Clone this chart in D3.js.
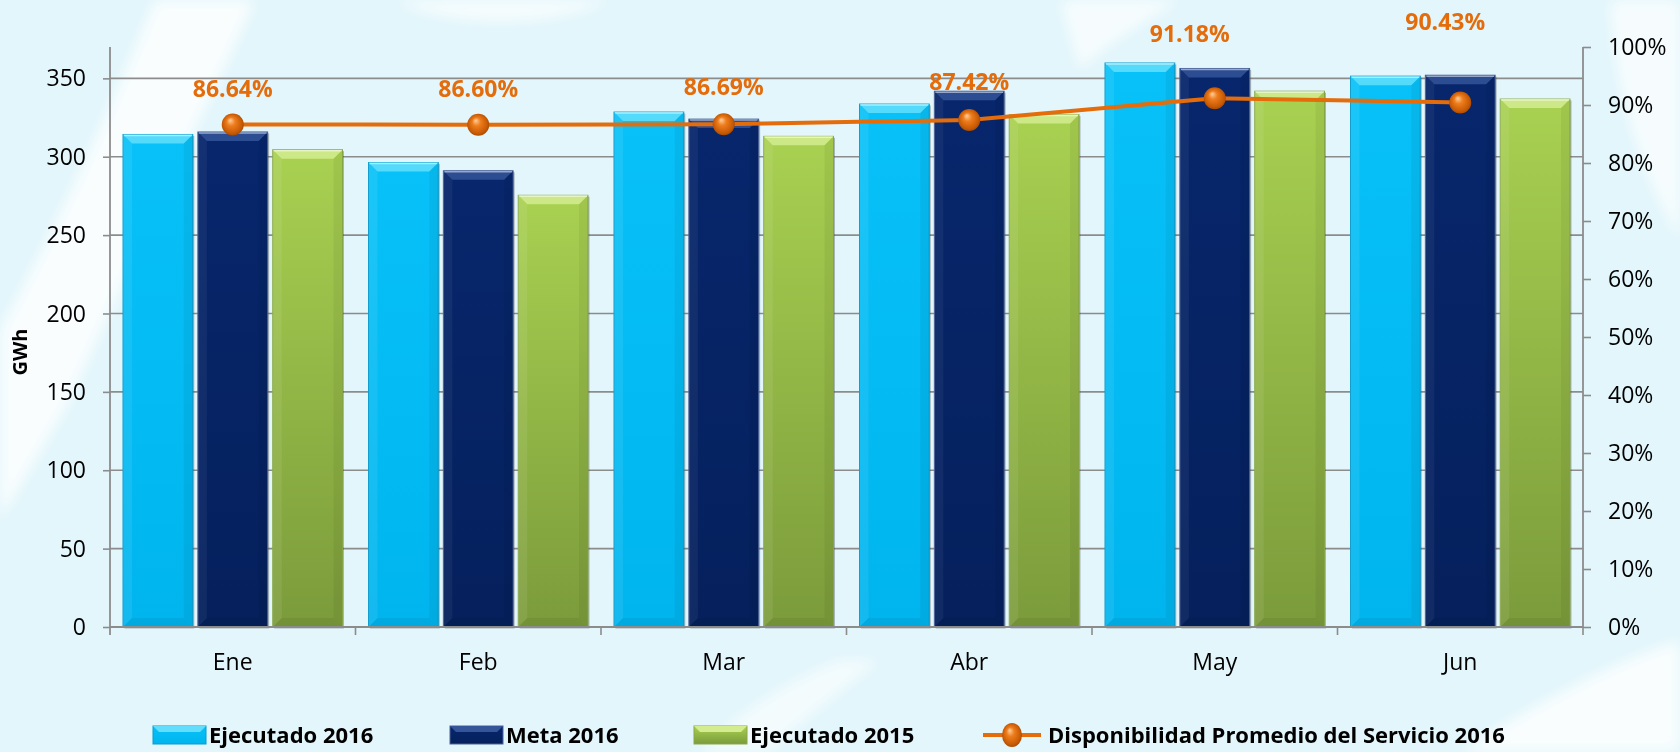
<!DOCTYPE html>
<html>
<head>
<meta charset="utf-8">
<script src="https://cdn.jsdelivr.net/npm/d3@7"></script>
<style>
    html, body { margin: 0; padding: 0; background: #e2f6fb; }
    svg { display: block; }
    text { font-family: 'Open Sans', 'Noto Sans', sans-serif; }
</style>
</head>
<body>
<div id="chart"></div>
<script>
// Data
const months = ['Ene', 'Feb', 'Mar', 'Abr', 'May', 'Jun'];
const ejecutado2016 = [314.2, 296.3, 328.5, 333.6, 359.8, 351.4];
const meta2016 = [315.8, 291.0, 324.0, 341.8, 356.3, 352.0];
const ejecutado2015 = [304.5, 275.4, 313.0, 326.9, 341.8, 336.8];
const disponibilidad = [86.64, 86.60, 86.69, 87.42, 91.18, 90.43];
const seriesNames = ['Ejecutado 2016', 'Meta 2016', 'Ejecutado 2015'];
const lineName = 'Disponibilidad Promedio del Servicio 2016';
const leftTicks = [0, 50, 100, 150, 200, 250, 300, 350];
const rightTicks = [0, 10, 20, 30, 40, 50, 60, 70, 80, 90, 100];

// Layout tweaks for the percentage labels (px above the marker, px shift in x)
const labelLift = [36, 36, 37, 38, 64, 81];
const labelShift = [0, 0, 0, 0, -25, -15];

const styles = [
    { id: 'cyan',  top: '#08c1f8', bottom: '#00b5ee', bevel: '#62defc', edge: '#0a9ccd', side: 'rgba(255,255,255,0.08)' },
    { id: 'navy',  top: '#07266c', bottom: '#05205c', bevel: '#34559a', edge: '#4a6296', side: 'rgba(255,255,255,0.05)' },
    { id: 'green', top: '#a9d151', bottom: '#7b9b3b', bevel: '#d3ec8f', edge: '#8aa849', side: 'rgba(255,255,255,0.08)' }
];
const orange = '#e46c0a';

const width = 1680, height = 752;
const margin = { top: 47, right: 97, bottom: 125, left: 110 };
const plotRight = width - margin.right;
const plotBottom = height - margin.bottom;

const svg = d3.select('#chart').append('svg')
    .attr('width', width)
    .attr('height', height);

const defs = svg.append('defs');

// Gradients for bars
styles.forEach(s => {
    const lg = defs.append('linearGradient')
        .attr('id', `grad-${s.id}`)
        .attr('x1', 0).attr('y1', 0).attr('x2', 0).attr('y2', 1);
    lg.append('stop').attr('offset', '0%').attr('stop-color', s.top);
    lg.append('stop').attr('offset', '100%').attr('stop-color', s.bottom);
});

// Sphere marker gradient
const rg = defs.append('radialGradient')
    .attr('id', 'sphere')
    .attr('cx', '50%').attr('cy', '50%').attr('r', '55%')
    .attr('fx', '38%').attr('fy', '30%');
rg.append('stop').attr('offset', '0%').attr('stop-color', '#ffd0a0');
rg.append('stop').attr('offset', '35%').attr('stop-color', '#ee7d1c');
rg.append('stop').attr('offset', '80%').attr('stop-color', '#c85a05');
rg.append('stop').attr('offset', '100%').attr('stop-color', '#9a4400');

defs.append('filter').attr('id', 'blur')
    .attr('x', '-20%').attr('y', '-20%').attr('width', '140%').attr('height', '140%')
    .append('feGaussianBlur').attr('stdDeviation', 7);

// Background with soft white swooshes
svg.append('rect').attr('width', width).attr('height', height).attr('fill', '#e2f6fb');
const bg = svg.append('g').attr('filter', 'url(#blur)').attr('fill', '#ffffff');
bg.append('path').attr('opacity', 0.8)
    .attr('d', 'M155,0 L255,0 C215,90 150,220 70,400 L0,520 L0,330 C60,220 110,110 155,0 Z');
bg.append('path').attr('opacity', 0.7)
    .attr('d', 'M395,0 C440,28 560,28 610,0 Z');
bg.append('path').attr('opacity', 0.7)
    .attr('d', 'M1060,0 L1180,0 C1150,20 1110,40 1080,70 Z');
bg.append('path').attr('opacity', 0.7)
    .attr('d', 'M1610,0 L1680,0 L1680,240 C1645,180 1615,100 1610,0 Z');
bg.append('path').attr('opacity', 0.8)
    .attr('d', 'M1460,752 C1540,700 1620,660 1680,640 L1680,752 Z');
bg.append('path').attr('opacity', 0.6)
    .attr('d', 'M700,752 C740,710 790,680 840,660 L880,660 C830,700 790,730 770,752 Z');

// Scales (absolute page coordinates)
const x0 = d3.scaleBand().domain(months).range([margin.left, plotRight]).padding(0);
const x1 = d3.scaleBand().domain(seriesNames)
    .range([13, x0.bandwidth() - 13])
    .paddingInner(0.068);
const y = d3.scaleLinear().domain([0, 370]).range([plotBottom, margin.top]);
const yR = d3.scaleLinear().domain([0, 100]).range([plotBottom, margin.top]);

const axisColor = '#8c8c8c';
const tickFont = '23px';

// Gridlines
svg.append('g').selectAll('line')
    .data(leftTicks.filter(t => t > 0))
    .join('line')
    .attr('x1', margin.left).attr('x2', plotRight)
    .attr('y1', d => y(d)).attr('y2', d => y(d))
    .attr('stroke', axisColor)
    .attr('stroke-width', 1.6);

// Bevelled bar
function drawBar(sel, bx, by, bw, bh, s) {
    const b = Math.min(9, bh / 2);
    sel.append('rect')
        .attr('x', bx + 1.5).attr('y', by + 1.5)
        .attr('width', bw).attr('height', bh)
        .attr('fill', 'rgba(60,60,60,0.35)');
    sel.append('rect')
        .attr('x', bx).attr('y', by)
        .attr('width', bw).attr('height', bh)
        .attr('fill', `url(#grad-${s.id})`)
        .attr('stroke', s.edge)
        .attr('stroke-width', 1);
    sel.append('polygon')
        .attr('points', [[bx, by], [bx + b, by + b], [bx + b, by + bh - b], [bx, by + bh]].join(' '))
        .attr('fill', s.side);
    sel.append('polygon')
        .attr('points', [[bx + bw, by], [bx + bw - b, by + b], [bx + bw - b, by + bh - b], [bx + bw, by + bh]].join(' '))
        .attr('fill', 'rgba(0,0,0,0.05)');
    sel.append('polygon')
        .attr('points', [[bx, by + bh], [bx + b, by + bh - b], [bx + bw - b, by + bh - b], [bx + bw, by + bh]].join(' '))
        .attr('fill', 'rgba(0,0,0,0.06)');
    sel.append('polygon')
        .attr('points', [[bx, by], [bx + bw, by], [bx + bw - b, by + b], [bx + b, by + b]].join(' '))
        .attr('fill', s.bevel)
        .attr('opacity', 0.85);
    sel.append('line')
        .attr('x1', bx + 1).attr('x2', bx + bw - 1)
        .attr('y1', by + 1).attr('y2', by + 1)
        .attr('stroke', 'rgba(255,255,255,0.5)')
        .attr('stroke-width', 1.5);
}

const seriesValues = [ejecutado2016, meta2016, ejecutado2015];
const bars = svg.append('g');
months.forEach((m, i) => {
    seriesNames.forEach((name, k) => {
        const v = seriesValues[k][i];
        drawBar(bars.append('g'), x0(m) + x1(name), y(v), x1.bandwidth(), y(0) - y(v), styles[k]);
    });
});

// Left axis: tick marks from d3, labels as plain text
const leftAxis = svg.append('g')
    .attr('transform', `translate(${margin.left},0)`)
    .call(d3.axisLeft(y).tickValues(leftTicks).tickSize(7).tickFormat('').tickSizeOuter(0));
leftAxis.select('.domain').remove();
leftAxis.selectAll('.tick line').attr('stroke', axisColor).attr('stroke-width', 1.6);
svg.append('g').selectAll('text')
    .data(leftTicks)
    .join('text')
    .attr('x', margin.left - 24)
    .attr('y', d => y(d))
    .attr('dy', '0.35em')
    .attr('text-anchor', 'end')
    .style('font-size', tickFont)
    .attr('fill', '#000')
    .text(d => d);
svg.append('line')
    .attr('x1', margin.left).attr('x2', margin.left)
    .attr('y1', margin.top).attr('y2', plotBottom + 8)
    .attr('stroke', axisColor).attr('stroke-width', 1.8);

// Right axis
const rightAxis = svg.append('g')
    .attr('transform', `translate(${plotRight},0)`)
    .call(d3.axisRight(yR).tickValues(rightTicks).tickSize(8).tickFormat('').tickSizeOuter(0));
rightAxis.select('.domain').remove();
rightAxis.selectAll('.tick line').attr('stroke', axisColor).attr('stroke-width', 1.6);
svg.append('g').selectAll('text')
    .data(rightTicks)
    .join('text')
    .attr('x', plotRight + 25)
    .attr('y', d => yR(d))
    .attr('dy', '0.35em')
    .attr('text-anchor', 'start')
    .style('font-size', tickFont)
    .attr('fill', '#000')
    .text(d => `${d}%`);
svg.append('line')
    .attr('x1', plotRight).attr('x2', plotRight)
    .attr('y1', margin.top).attr('y2', plotBottom)
    .attr('stroke', axisColor).attr('stroke-width', 1.8);

// X axis: baseline, boundary ticks, month labels
svg.append('line')
    .attr('x1', margin.left).attr('x2', plotRight)
    .attr('y1', y(0)).attr('y2', y(0))
    .attr('stroke', axisColor).attr('stroke-width', 1.8);
svg.append('g').selectAll('line')
    .data(months.slice(1))
    .join('line')
    .attr('x1', d => x0(d)).attr('x2', d => x0(d))
    .attr('y1', plotBottom).attr('y2', plotBottom + 8)
    .attr('stroke', axisColor).attr('stroke-width', 1.6);
svg.append('line')
    .attr('x1', plotRight).attr('x2', plotRight)
    .attr('y1', plotBottom).attr('y2', plotBottom + 8)
    .attr('stroke', axisColor).attr('stroke-width', 1.6);
svg.append('g').selectAll('text')
    .data(months)
    .join('text')
    .attr('x', d => x0(d) + x0.bandwidth() / 2)
    .attr('y', plotBottom + 35)
    .attr('dy', '0.35em')
    .attr('text-anchor', 'middle')
    .style('font-size', tickFont)
    .attr('fill', '#000')
    .text(d => d);

// Y axis title
svg.append('text')
    .attr('transform', 'rotate(-90)')
    .attr('x', -352)
    .attr('y', 27)
    .attr('text-anchor', 'middle')
    .style('font-size', '20px')
    .style('font-weight', 'bold')
    .attr('fill', '#000')
    .text('GWh');

// Availability line
const cx = i => x0(months[i]) + x0.bandwidth() / 2;
const line = d3.line()
    .x((d, i) => cx(i))
    .y(d => yR(d));
svg.append('path')
    .datum(disponibilidad)
    .attr('d', line)
    .attr('fill', 'none')
    .attr('stroke', orange)
    .attr('stroke-width', 4);

svg.append('g').selectAll('circle')
    .data(disponibilidad)
    .join('circle')
    .attr('cx', (d, i) => cx(i))
    .attr('cy', d => yR(d))
    .attr('r', 11)
    .attr('fill', 'url(#sphere)');

svg.append('g').selectAll('text')
    .data(disponibilidad)
    .join('text')
    .attr('x', (d, i) => cx(i) + labelShift[i])
    .attr('y', (d, i) => yR(d) - labelLift[i])
    .attr('dy', '0.35em')
    .attr('text-anchor', 'middle')
    .style('font-size', '23px')
    .style('font-weight', 'bold')
    .attr('fill', orange)
    .text(d => `${d.toFixed(2)}%`);

// Legend
const legendY = 735;
const legendFont = '22px';
const legendItems = [
    { name: seriesNames[0], x: 153, style: styles[0] },
    { name: seriesNames[1], x: 450, style: styles[1] },
    { name: seriesNames[2], x: 694, style: styles[2] }
];
const legend = svg.append('g');
legendItems.forEach(item => {
    const lg = legend.append('g');
    const s = item.style;
    lg.append('rect')
        .attr('x', item.x).attr('y', legendY - 9)
        .attr('width', 53).attr('height', 18)
        .attr('fill', `url(#grad-${s.id})`)
        .attr('stroke', s.edge);
    lg.append('polygon')
        .attr('points', [[item.x, legendY - 9], [item.x + 53, legendY - 9], [item.x + 47, legendY - 3], [item.x + 6, legendY - 3]].join(' '))
        .attr('fill', s.bevel);
    lg.append('text')
        .attr('x', item.x + 56).attr('y', legendY)
        .attr('dy', '0.35em')
        .style('font-size', legendFont)
        .style('font-weight', 'bold')
        .attr('fill', '#000')
        .text(item.name);
});
const lx = 983;
legend.append('line')
    .attr('x1', lx).attr('x2', lx + 58)
    .attr('y1', legendY).attr('y2', legendY)
    .attr('stroke', orange).attr('stroke-width', 4);
legend.append('ellipse')
    .attr('cx', lx + 29).attr('cy', legendY)
    .attr('rx', 10).attr('ry', 12)
    .attr('fill', 'url(#sphere)');
legend.append('text')
    .attr('x', lx + 65).attr('y', legendY)
    .attr('dy', '0.35em')
    .style('font-size', legendFont)
    .style('font-weight', 'bold')
    .attr('fill', '#000')
    .text(lineName);
</script>
</body>
</html>
